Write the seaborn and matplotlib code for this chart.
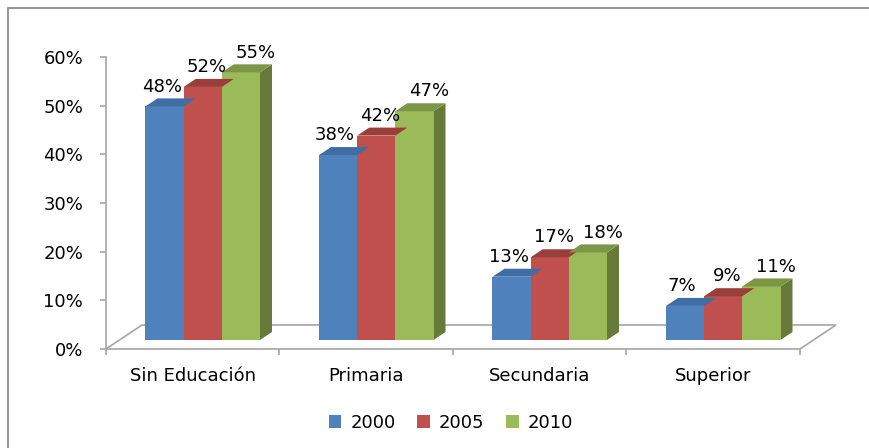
import pandas as pd
import seaborn as sns
import matplotlib.pyplot as plt
import numpy as np
from matplotlib.patches import Polygon, Rectangle, Patch

# Data
categorias = ['Sin Educación', 'Primaria', 'Secundaria', 'Superior']
anios = ['2000', '2005', '2010']
v2000 = [0.48, 0.38, 0.13, 0.07]
v2005 = [0.52, 0.42, 0.17, 0.09]
v2010 = [0.55, 0.47, 0.18, 0.11]

front = ['#4F81BD', '#C0504D', '#9BBB59']
top_c = ['#3F6DA6', '#9A3E3B', '#7A9646']
side_c = ['#355B8A', '#853634', '#677A3A']
label_shift = [-3, 4, 15]  # px, data labels nudged like in the original

df = pd.DataFrame({
    'categoria': categorias * 3,
    'anio': [a for a in anios for _ in categorias],
    'valor': v2000 + v2005 + v2010,
})

sns.set_style('white')
plt.rcParams['font.family'] = ['DejaVu Sans']
plt.rcParams['text.color'] = 'black'
plt.rcParams['xtick.labelcolor'] = 'black'
plt.rcParams['ytick.labelcolor'] = 'black'
FS = 13

fig = plt.figure(figsize=(8.7, 4.48), dpi=100)
W, H = 870, 448
ax = fig.add_axes([106 / W, 1 - 349 / H, (800 - 106) / W, (349 - 57) / H])

sns.barplot(data=df, x='categoria', y='valor', hue='anio', order=categorias,
            hue_order=anios, palette=front, width=0.66, ax=ax, legend=False,
            saturation=1, linewidth=0, zorder=3)

ax.set_xlim(-0.5, 3.5)
ax.set_ylim(0, 0.6)

# pixel -> data units
px_x = 4 / (800 - 106)
px_y = 0.6 / (349 - 57)

# floor of the 3D box
fdx, fdy = 36 * px_x, 24 * px_y
floor = Polygon([(-0.5, 0), (-0.5 + fdx, fdy), (3.5 + fdx, fdy), (3.5, 0)],
                closed=False, facecolor='white', edgecolor='#A6A6A6', lw=1.2,
                clip_on=False, zorder=1)
ax.add_patch(floor)

# 3D bar effect
ox, oy = 10 * px_x, 9 * px_y
dx, dy = 12 * px_x, 8 * px_y
for i, cont in enumerate(ax.containers):
    for bar in cont:
        x0 = bar.get_x() + ox
        w = bar.get_width()
        h = bar.get_height()
        bar.set_x(x0)
        bar.set_y(oy)
        top = h + oy
        ax.add_patch(Polygon([(x0, top), (x0 + w, top), (x0 + w + dx, top + dy), (x0 + dx, top + dy)],
                             facecolor=top_c[i], lw=0, zorder=3, clip_on=False))
        ax.add_patch(Polygon([(x0 + w, oy), (x0 + w + dx, oy + dy), (x0 + w + dx, top + dy), (x0 + w, top)],
                             facecolor=side_c[i], lw=0, zorder=2.9 + 0.01 * i, clip_on=False))
        ax.annotate(f'{h * 100:.0f}%', (x0 + w / 2 + label_shift[i] * px_x, top + dy),
                    xytext=(0, 2), textcoords='offset points', ha='center', va='bottom',
                    fontsize=FS, color='black', clip_on=False, zorder=5)

# axes styling
for s in ['top', 'right']:
    ax.spines[s].set_visible(False)
for s in ['left', 'bottom']:
    ax.spines[s].set_color('#A6A6A6')
    ax.spines[s].set_linewidth(1.2)
    ax.spines[s].set_zorder(4)

yt = np.arange(0, 0.61, 0.1)
ax.set_yticks(yt)
ax.set_yticklabels([f'{int(round(t * 100))}%' for t in yt])
ax.tick_params(axis='y', length=4.5, width=1.2, color='#A6A6A6', pad=12,
               labelsize=FS, labelcolor='black', left=True, direction='out')
ax.set_xticks(range(4))
ax.set_xticklabels(categorias)
ax.set_xticks([-0.5, 0.5, 1.5, 2.5, 3.5], minor=True)
ax.tick_params(axis='x', which='major', length=0, pad=13, labelsize=FS, labelcolor='black')
ax.tick_params(axis='x', which='minor', length=4.5, width=1.2, color='#A6A6A6',
               bottom=True, direction='out')
ax.set_xlabel('')
ax.set_ylabel('')

# legend
handles = [Patch(facecolor=c, edgecolor='none') for c in front]
fig.legend(handles, anios, loc='center', bbox_to_anchor=(451 / W, 1 - 423 / H),
           ncol=3, frameon=False, fontsize=FS, handlelength=0.7, handleheight=0.7,
           handletextpad=0.5, columnspacing=1.2, labelcolor='black')

# outer chart border
fig.add_artist(Rectangle((8 / W, -0.1), 1.2, 1 - 8 / H + 0.1, transform=fig.transFigure,
                         fill=False, edgecolor='#8C8C8C', lw=1.3))

fig.savefig('out.png', dpi=100)
